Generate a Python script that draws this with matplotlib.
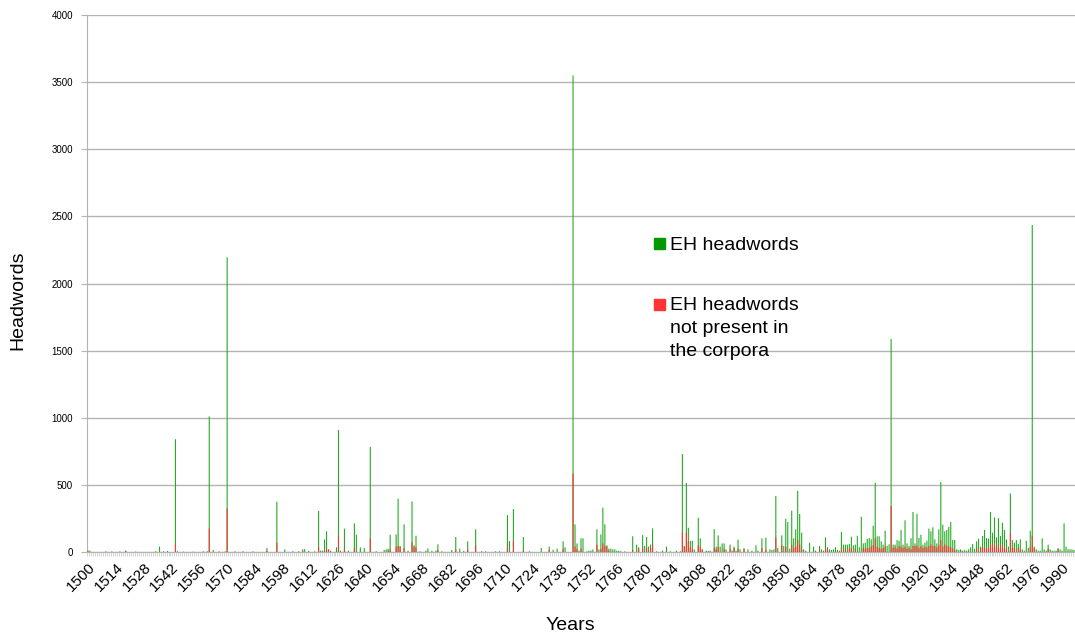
import numpy as np
import matplotlib
matplotlib.use("Agg")
from matplotlib import pyplot as plt
from matplotlib.patches import Rectangle

plt.rcParams['font.family'] = ['Liberation Sans', 'DejaVu Sans']

# one row per decade, 1500 .. 1996
years = list(range(1500, 1997))

eh_headwords = [
    12, 10, 0, 0, 0, 0, 0, 0, 0, 5,
    0, 0, 4, 0, 0, 0, 4, 0, 0, 10,
    0, 0, 0, 0, 3, 0, 0, 0, 0, 0,
    0, 0, 0, 0, 5, 0, 40, 0, 5, 0,
    8, 0, 0, 0, 840, 5, 0, 0, 3, 0,
    0, 0, 0, 3, 0, 0, 0, 0, 5, 0,
    5, 1010, 0, 15, 0, 0, 5, 0, 0, 5,
    2195, 0, 0, 0, 5, 0, 0, 0, 5, 0,
    0, 0, 0, 5, 0, 0, 0, 0, 0, 0,
    30, 0, 0, 0, 0, 375, 0, 0, 0, 20,
    0, 0, 0, 5, 0, 0, 5, 0, 20, 22,
    0, 8, 0, 0, 5, 0, 305, 10, 10, 94,
    154, 20, 10, 0, 0, 35, 909, 10, 0, 174,
    0, 10, 0, 0, 213, 129, 0, 35, 0, 30,
    0, 0, 782, 0, 0, 5, 0, 0, 0, 15,
    20, 25, 129, 0, 0, 131, 397, 45, 0, 206,
    0, 10, 0, 377, 50, 121, 0, 5, 0, 0,
    10, 27, 0, 8, 0, 10, 57, 0, 5, 0,
    0, 0, 0, 15, 0, 112, 0, 25, 0, 8,
    0, 79, 0, 0, 0, 169, 0, 0, 5, 0,
    5, 0, 0, 0, 0, 5, 0, 5, 0, 0,
    0, 275, 82, 0, 320, 0, 0, 0, 0, 112,
    0, 0, 5, 0, 0, 0, 0, 0, 30, 0,
    0, 0, 40, 0, 17, 0, 25, 0, 0, 79,
    35, 0, 0, 0, 3550, 206, 64, 10, 102, 102,
    0, 5, 10, 10, 20, 0, 169, 20, 131, 330,
    206, 50, 25, 25, 20, 20, 10, 8, 5, 0,
    5, 0, 0, 0, 117, 0, 55, 35, 0, 126,
    45, 112, 40, 55, 176, 0, 5, 0, 0, 10,
    0, 40, 0, 5, 0, 0, 10, 0, 5, 730,
    45, 514, 181, 82, 84, 20, 0, 255, 102, 20,
    0, 10, 8, 10, 0, 169, 40, 124, 40, 64,
    64, 20, 0, 55, 10, 40, 10, 92, 20, 0,
    30, 0, 20, 0, 10, 0, 50, 10, 0, 102,
    0, 107, 0, 20, 15, 20, 417, 30, 0, 124,
    45, 248, 223, 25, 308, 102, 169, 456, 283, 144,
    20, 10, 0, 69, 0, 40, 10, 0, 45, 20,
    10, 109, 35, 20, 15, 20, 35, 15, 10, 149,
    55, 55, 55, 60, 114, 50, 55, 121, 35, 263,
    64, 69, 99, 104, 94, 196, 516, 117, 117, 79,
    55, 159, 45, 57, 1587, 55, 55, 89, 84, 164,
    55, 236, 64, 45, 102, 298, 64, 285, 104, 129,
    55, 69, 84, 174, 154, 184, 94, 64, 169, 521,
    203, 154, 164, 188, 223, 89, 89, 20, 15, 20,
    10, 15, 10, 20, 35, 60, 25, 79, 99, 40,
    119, 164, 104, 99, 298, 144, 258, 109, 253, 119,
    218, 164, 94, 40, 436, 89, 69, 89, 60, 94,
    20, 10, 84, 30, 159, 2436, 40, 20, 10, 10,
    102, 20, 10, 55, 20, 10, 10, 10, 30, 20,
    10, 213, 40, 20, 20, 20, 15,
]

not_in_corpora = [
    3, 0, 0, 0, 0, 0, 0, 0, 0, 0,
    0, 0, 0, 0, 0, 0, 0, 0, 0, 8,
    0, 0, 0, 0, 0, 0, 0, 0, 0, 0,
    0, 0, 0, 0, 0, 0, 0, 0, 0, 0,
    0, 0, 0, 0, 60, 0, 0, 0, 0, 0,
    0, 0, 0, 0, 0, 0, 0, 0, 0, 0,
    0, 176, 0, 0, 0, 0, 0, 0, 0, 0,
    325, 0, 0, 0, 0, 0, 0, 0, 0, 0,
    0, 0, 0, 0, 0, 0, 0, 0, 0, 0,
    8, 0, 0, 0, 0, 70, 0, 0, 0, 0,
    0, 0, 0, 0, 0, 0, 0, 0, 5, 0,
    0, 0, 0, 0, 0, 0, 37, 0, 0, 10,
    25, 20, 0, 0, 0, 0, 114, 0, 0, 20,
    0, 0, 0, 0, 30, 0, 0, 0, 0, 0,
    0, 0, 102, 0, 0, 0, 0, 0, 0, 0,
    0, 10, 20, 0, 0, 40, 45, 40, 0, 30,
    0, 0, 0, 74, 40, 35, 0, 0, 0, 0,
    0, 0, 0, 0, 0, 0, 15, 0, 0, 0,
    0, 0, 0, 0, 0, 20, 0, 0, 0, 0,
    0, 20, 0, 0, 0, 50, 0, 0, 0, 0,
    0, 0, 0, 0, 0, 0, 0, 0, 0, 0,
    0, 40, 0, 0, 84, 0, 0, 0, 0, 10,
    0, 0, 0, 0, 0, 0, 0, 0, 0, 0,
    0, 0, 15, 0, 0, 0, 0, 0, 0, 25,
    0, 0, 0, 0, 585, 40, 25, 0, 25, 0,
    0, 0, 0, 0, 0, 0, 55, 0, 25, 64,
    45, 40, 10, 0, 0, 0, 0, 0, 0, 0,
    0, 0, 0, 0, 15, 0, 0, 25, 0, 30,
    0, 35, 0, 30, 55, 0, 0, 0, 0, 0,
    0, 0, 0, 0, 0, 0, 0, 0, 0, 149,
    40, 144, 79, 35, 20, 0, 0, 50, 35, 20,
    0, 0, 0, 0, 0, 30, 20, 40, 0, 0,
    25, 0, 0, 25, 0, 30, 0, 25, 0, 0,
    20, 0, 0, 0, 0, 0, 0, 0, 0, 30,
    0, 20, 0, 0, 0, 0, 109, 0, 0, 50,
    0, 40, 0, 0, 55, 30, 40, 89, 55, 20,
    0, 0, 0, 0, 0, 0, 0, 0, 20, 0,
    0, 20, 25, 0, 0, 0, 0, 0, 0, 30,
    0, 25, 0, 25, 30, 0, 25, 0, 0, 0,
    30, 25, 30, 30, 40, 50, 99, 40, 30, 25,
    30, 40, 0, 0, 342, 30, 40, 25, 45, 40,
    30, 40, 25, 30, 20, 45, 45, 50, 30, 45,
    30, 40, 35, 45, 55, 45, 45, 35, 50, 89,
    40, 55, 45, 40, 35, 25, 15, 0, 0, 10,
    0, 0, 0, 0, 0, 0, 0, 30, 0, 30,
    40, 30, 25, 35, 55, 69, 35, 45, 60, 30,
    55, 30, 20, 0, 144, 30, 30, 0, 30, 20,
    0, 0, 0, 0, 35, 124, 30, 0, 0, 0,
    0, 0, 0, 25, 0, 0, 0, 0, 20, 0,
    0, 0, 0, 0, 0, 0, 0,
]

label_years = list(range(1500, 1997, 14))

green = '#22aa22'
red = '#ff3333'
grid_gray = '#b3b3b3'

fig = plt.figure(figsize=(10.75, 6.34), dpi=100)
ax = fig.add_axes([87 / 1075, 1 - 552 / 634, 988 / 1075, 537 / 634])

ax.bar(years, eh_headwords, width=0.55, color=green, edgecolor='none',
       linewidth=0, snap=False, zorder=3)
ax.bar(years, not_in_corpora, width=0.55, color=red, edgecolor='none',
       linewidth=0, snap=False, zorder=4)

ax.set_xlim(1499.5, 1996.5)
ax.set_ylim(0, 4000)
ax.set_yticks(range(0, 4001, 500))
ax.yaxis.grid(True, color=grid_gray, linewidth=1, zorder=0)
ax.set_axisbelow(True)

ax.set_xticks(label_years)
ax.set_xticklabels([str(y) for y in label_years], rotation=45, ha='right',
                   rotation_mode='anchor', fontsize=11)
ax.set_xticks(np.arange(1499.5, 1997, 1), minor=True)
ax.tick_params(axis='x', which='major', length=0, pad=6)
ax.tick_params(axis='x', which='minor', length=3, color='#cfcfcf', width=0.6)
ax.tick_params(axis='y', length=4, color=grid_gray, labelsize=7, pad=6)

for s in ['top', 'right']:
    ax.spines[s].set_visible(False)
for s in ['left', 'bottom']:
    ax.spines[s].set_color(grid_gray)

fig.text(570 / 1075, 1 - 625 / 634, 'Years', fontsize=14, ha='center', va='center')
fig.text(18 / 1075, 1 - 300 / 634, 'Headwords', fontsize=14, rotation=90,
         ha='center', va='center')

# legend drawn inside the plot area
fig.patches.append(Rectangle((654 / 1075, 1 - 249 / 634), 11 / 1075, 11 / 634,
                             transform=fig.transFigure, color='#009900'))
fig.text(670 / 1075, 1 - 245 / 634, 'EH headwords', fontsize=14, va='center')
fig.patches.append(Rectangle((654 / 1075, 1 - 310 / 634), 11 / 1075, 11 / 634,
                             transform=fig.transFigure, color=red))
fig.text(670 / 1075, 1 - 297 / 634, 'EH headwords\nnot present in\nthe corpora',
         fontsize=14, va='top', linespacing=1.45)

fig.savefig('out.png', dpi=100)
